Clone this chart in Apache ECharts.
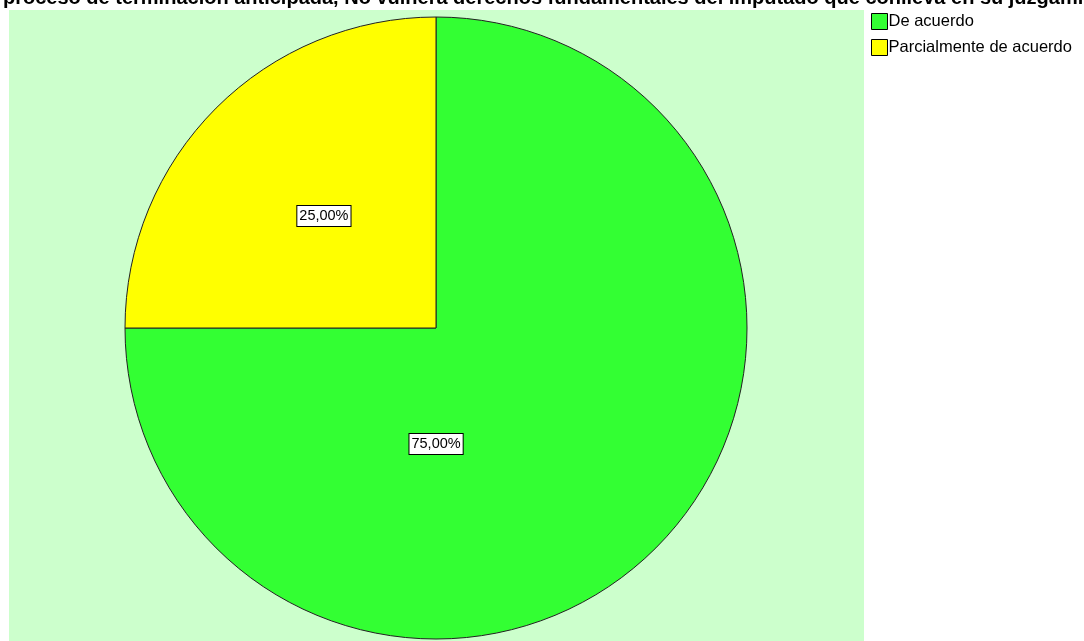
<!DOCTYPE html>
<html>
<head>
<meta charset="utf-8">
<script src="https://cdn.jsdelivr.net/npm/echarts@6/dist/echarts.min.js"></script>
<style>html,body{margin:0;padding:0;background:#fff;}#c{width:1084px;height:641px;}</style>
</head>
<body>
<div id="c"></div>
<script>
const titleText = 'proceso de terminación anticipada, No vulnera derechos fundamentales del imputado que conlleva en su juzgamiento y sentencia';
const categories = ['De acuerdo', 'Parcialmente de acuerdo'];
const values = [75, 25];
const colors = ['#33ff33', '#ffff00'];

const chart = echarts.init(document.getElementById('c'));
chart.setOption({
  backgroundColor: '#ffffff',
  animation: false,
  title: {
    text: titleText,
    left: -2,
    top: -17,
    textStyle: {fontFamily: 'Liberation Sans, Arial', fontWeight: 'bold', fontSize: 20, color: '#000'}
  },
  graphic: [{
    type: 'rect', z: -10, silent: true,
    shape: {x: 9, y: 10, width: 855, height: 640},
    style: {fill: '#ccffcc'}
  }],
  legend: {
    orient: 'vertical',
    left: 866, top: 8,
    itemWidth: 16, itemHeight: 16, itemGap: 9,
    icon: 'rect',
    data: categories,
    textStyle: {fontFamily: 'Liberation Sans, Arial', fontSize: 16.5, color: '#000', padding: [0,0,0,-4]},
    itemStyle: {borderColor: '#000', borderWidth: 1}
  },
  series: [{
    type: 'pie',
    center: [436, 328],
    radius: 311,
    startAngle: 90,
    clockwise: true,
    avoidLabelOverlap: false,
    itemStyle: {borderColor: '#222', borderWidth: 1},
    label: {
      show: true,
      position: 'inside',
      formatter: p => p.value.toFixed(2).replace('.', ',') + '%',
      fontFamily: 'Liberation Sans, Arial', fontSize: 14.5, color: '#000',
      backgroundColor: '#fff', borderColor: '#000', borderWidth: 1, padding: [3, 2, 2, 2]
    },
    labelLine: {show: false},
    emphasis: {disabled: true},
    data: categories.map((c, i) => ({
      name: c, value: values[i],
      itemStyle: {color: colors[i]},
      label: i === 0 ? {offset: [-112, 4]} : {}
    }))
  }]
});
</script>
</body>
</html>
